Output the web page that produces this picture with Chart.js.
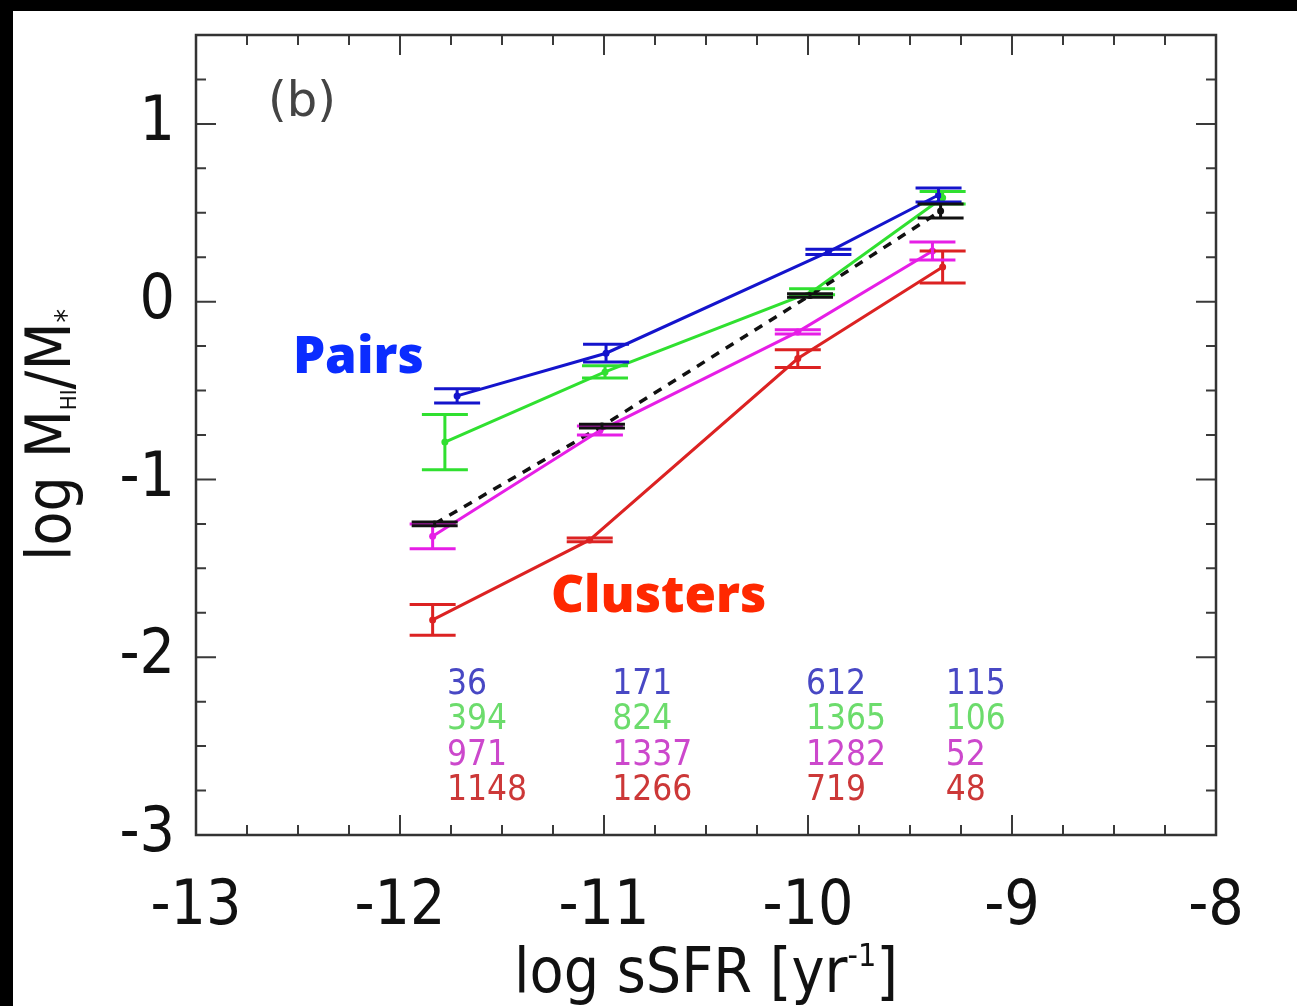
<!DOCTYPE html>
<html>
<head>
<meta charset="utf-8">
<script src="https://cdn.jsdelivr.net/npm/chart.js@4.4.1/dist/chart.umd.min.js"></script>
<style>
html, body { margin: 0; padding: 0; background: #000; overflow: hidden; }
#wrap { position: absolute; left: 0; top: 0; width: 1297px; height: 1006px; }
</style>
</head>
<body>
<div id="wrap"><canvas id="chart"></canvas></div>
<script>
// values (log sSFR bins, log MHI/M*)
const pairsX = [-11.72, -10.99, -9.90, -9.36];
const pairsY = [-0.53, -0.29, 0.28, 0.60];
const pairsErr = [0.04, 0.05, 0.015, 0.04];

const greenX = [-11.78, -10.995, -9.98, -9.34];
const greenY = [-0.79, -0.395, 0.056, 0.585];
const greenErr = [0.155, 0.035, 0.017, 0.035];

const allX = [-11.83, -11.01, -9.99, -9.35];
const allY = [-1.25, -0.70, 0.035, 0.51];
const allErr = [0.01, 0.01, 0.01, 0.04];

const magentaX = [-11.84, -11.02, -10.05, -9.39];
const magentaY = [-1.32, -0.725, -0.17, 0.285];
const magentaErr = [0.07, 0.025, 0.012, 0.05];

const clustersX = [-11.84, -11.07, -10.05, -9.34];
const clustersY = [-1.79, -1.34, -0.32, 0.195];
const clustersErr = [0.087, 0.01, 0.05, 0.09];

// galaxy counts per bin
const countsPairs = [36, 171, 612, 115];
const countsGreen = [394, 824, 1365, 106];
const countsMagenta = [971, 1337, 1282, 52];
const countsClusters = [1148, 1266, 719, 48];

const xTicks = [-13, -12, -11, -10, -9, -8];
const yTicks = [-3, -2, -1, 0, 1];

const COND = "'DejaVu Sans Condensed', 'DejaVu Sans', sans-serif";
const DEJA = "'DejaVu Sans', sans-serif";

function pts(xs, ys) { return xs.map((x, i) => ({ x: x, y: ys[i] })); }

function series(label, xs, ys, errs, color, dash) {
    return {
        label: label,
        data: pts(xs, ys),
        errors: errs,
        showLine: true,
        borderColor: color,
        backgroundColor: color,
        borderWidth: dash ? 3.5 : 3,
        borderDash: dash || [],
        pointRadius: 3.5,
        pointBorderWidth: 0,
        tension: 0
    };
}

const countCols = [-11.77, -10.96, -10.01, -9.325];
const countRows = [
    { values: countsPairs, color: '#4848c4', y: -2.157 },
    { values: countsGreen, color: '#6cdc6c', y: -2.355 },
    { values: countsMagenta, color: '#cc48cc', y: -2.553 },
    { values: countsClusters, color: '#cc3838', y: -2.752 }
];

const bgPlugin = {
    id: 'bg',
    beforeDraw(chart) {
        const ctx = chart.ctx;
        ctx.save();
        ctx.fillStyle = '#000';
        ctx.fillRect(0, 0, chart.width, chart.height);
        ctx.fillStyle = '#fff';
        ctx.fillRect(13, 11, chart.width - 13, chart.height - 11);
        ctx.restore();
    }
};

const errorBars = {
    id: 'errorBars',
    afterDatasetsDraw(chart) {
        const ctx = chart.ctx, xs = chart.scales.x, ys = chart.scales.y;
        const sets = chart.data.datasets.slice().reverse();
        sets.forEach(ds => {
            ctx.save();
            ctx.strokeStyle = ds.borderColor;
            ctx.lineWidth = 3;
            ds.data.forEach((p, j) => {
                const px = xs.getPixelForValue(p.x);
                const lo = ys.getPixelForValue(p.y - ds.errors[j]);
                const hi = ys.getPixelForValue(p.y + ds.errors[j]);
                ctx.beginPath();
                ctx.moveTo(px, lo); ctx.lineTo(px, hi);
                ctx.moveTo(px - 23, lo); ctx.lineTo(px + 23, lo);
                ctx.moveTo(px - 23, hi); ctx.lineTo(px + 23, hi);
                ctx.stroke();
            });
            ctx.restore();
        });
    }
};

const labels = {
    id: 'labels',
    afterDatasetsDraw(chart) {
        const ctx = chart.ctx, xs = chart.scales.x, ys = chart.scales.y;
        const a = chart.chartArea;
        ctx.save();
        ctx.textAlign = 'left';
        ctx.textBaseline = 'alphabetic';

        ctx.fillStyle = '#444';
        ctx.font = '48px ' + DEJA;
        ctx.fillText('(b)', xs.getPixelForValue(-12.647), ys.getPixelForValue(1.045));

        ctx.font = '800 51px "Open Sans", sans-serif';
        ctx.fillStyle = '#0a2cff';
        ctx.fillText('Pairs', xs.getPixelForValue(-12.525), ys.getPixelForValue(-0.404));
        ctx.fillStyle = '#ff2800';
        ctx.fillText('Clusters', xs.getPixelForValue(-11.26), ys.getPixelForValue(-1.747));

        ctx.font = '35px ' + COND;
        ctx.textBaseline = 'middle';
        countRows.forEach(r => {
            ctx.fillStyle = r.color;
            r.values.forEach((v, i) => {
                ctx.fillText(String(v), xs.getPixelForValue(countCols[i]), ys.getPixelForValue(r.y));
            });
        });

        // axis titles
        ctx.fillStyle = '#111';
        ctx.textBaseline = 'alphabetic';
        const big = '62px ' + COND, small = '32px ' + COND, sub = '22px ' + COND;
        // x title
        const parts = [['log sSFR [yr', big, 0], ['-1', small, -26], [']', big, 0]];
        let w = 0;
        parts.forEach(p => { ctx.font = p[1]; w += ctx.measureText(p[0]).width; });
        let x = (a.left + a.right) / 2 - w / 2;
        parts.forEach(p => {
            ctx.font = p[1];
            ctx.fillText(p[0], x, 992 + p[2]);
            x += ctx.measureText(p[0]).width;
        });
        // y title, rotated
        const yparts = [['log M', big, 0], ['HI', sub, 6], ['/M', big, 0], ['*', '30px ' + COND, 6]];
        w = 0;
        yparts.forEach(p => { ctx.font = p[1]; w += ctx.measureText(p[0]).width; });
        ctx.translate(70, (a.top + a.bottom) / 2);
        ctx.rotate(-Math.PI / 2);
        x = -w / 2;
        yparts.forEach(p => {
            ctx.font = p[1];
            ctx.fillText(p[0], x, p[2]);
            x += ctx.measureText(p[0]).width;
        });
        ctx.restore();
    }
};

const frame = {
    id: 'frame',
    afterDraw(chart) {
        const ctx = chart.ctx, xs = chart.scales.x, ys = chart.scales.y;
        const a = chart.chartArea;
        ctx.save();
        ctx.strokeStyle = '#3a3a3a';
        ctx.lineWidth = 2;
        ctx.beginPath();
        for (let v = -13; v <= -8.001; v += 0.25) {
            const px = xs.getPixelForValue(v);
            const len = Math.abs(v - Math.round(v)) < 0.01 ? 20 : 10;
            ctx.moveTo(px, a.bottom); ctx.lineTo(px, a.bottom - len);
            ctx.moveTo(px, a.top); ctx.lineTo(px, a.top + len);
        }
        for (let v = -3; v <= 1.5; v += 0.25) {
            const py = ys.getPixelForValue(v);
            const len = Math.abs(v - Math.round(v)) < 0.01 ? 20 : 10;
            ctx.moveTo(a.left, py); ctx.lineTo(a.left + len, py);
            ctx.moveTo(a.right, py); ctx.lineTo(a.right - len, py);
        }
        ctx.stroke();
        ctx.lineWidth = 2.5;
        ctx.strokeStyle = '#333';
        ctx.strokeRect(a.left, a.top, a.right - a.left, a.bottom - a.top);
        ctx.restore();
    }
};

new Chart(document.getElementById('chart'), {
    type: 'scatter',
    data: {
        datasets: [
            series('All', allX, allY, allErr, '#111111', [9, 8]),
            series('Pairs', pairsX, pairsY, pairsErr, '#1414cc'),
            series('Green', greenX, greenY, greenErr, '#30e030'),
            series('Magenta', magentaX, magentaY, magentaErr, '#e61ee6'),
            series('Clusters', clustersX, clustersY, clustersErr, '#dc2222')
        ]
    },
    options: {
        responsive: true,
        maintainAspectRatio: false,
        animation: false,
        layout: { padding: { top: 35, right: 81, left: 0, bottom: 0 } },
        plugins: { legend: { display: false }, tooltip: { enabled: false } },
        scales: {
            x: {
                type: 'linear', min: -13, max: -8,
                afterFit: s => { s.height = 171; s.paddingLeft = 0; s.paddingRight = 0; },
                afterBuildTicks: s => { s.ticks = xTicks.map(v => ({ value: v })); },
                grid: { display: false, drawTicks: false },
                border: { display: false },
                ticks: { padding: 36, color: '#111', font: { family: COND, size: 62 } }
            },
            y: {
                type: 'linear', min: -3, max: 1.5,
                afterFit: s => { s.width = 196; s.paddingTop = 0; s.paddingBottom = 0; },
                afterBuildTicks: s => { s.ticks = yTicks.map(v => ({ value: v })); },
                grid: { display: false, drawTicks: false },
                border: { display: false },
                ticks: { padding: 21, color: '#111', font: { family: COND, size: 62 } }
            }
        }
    },
    plugins: [bgPlugin, errorBars, labels, frame]
});
</script>
</body>
</html>
